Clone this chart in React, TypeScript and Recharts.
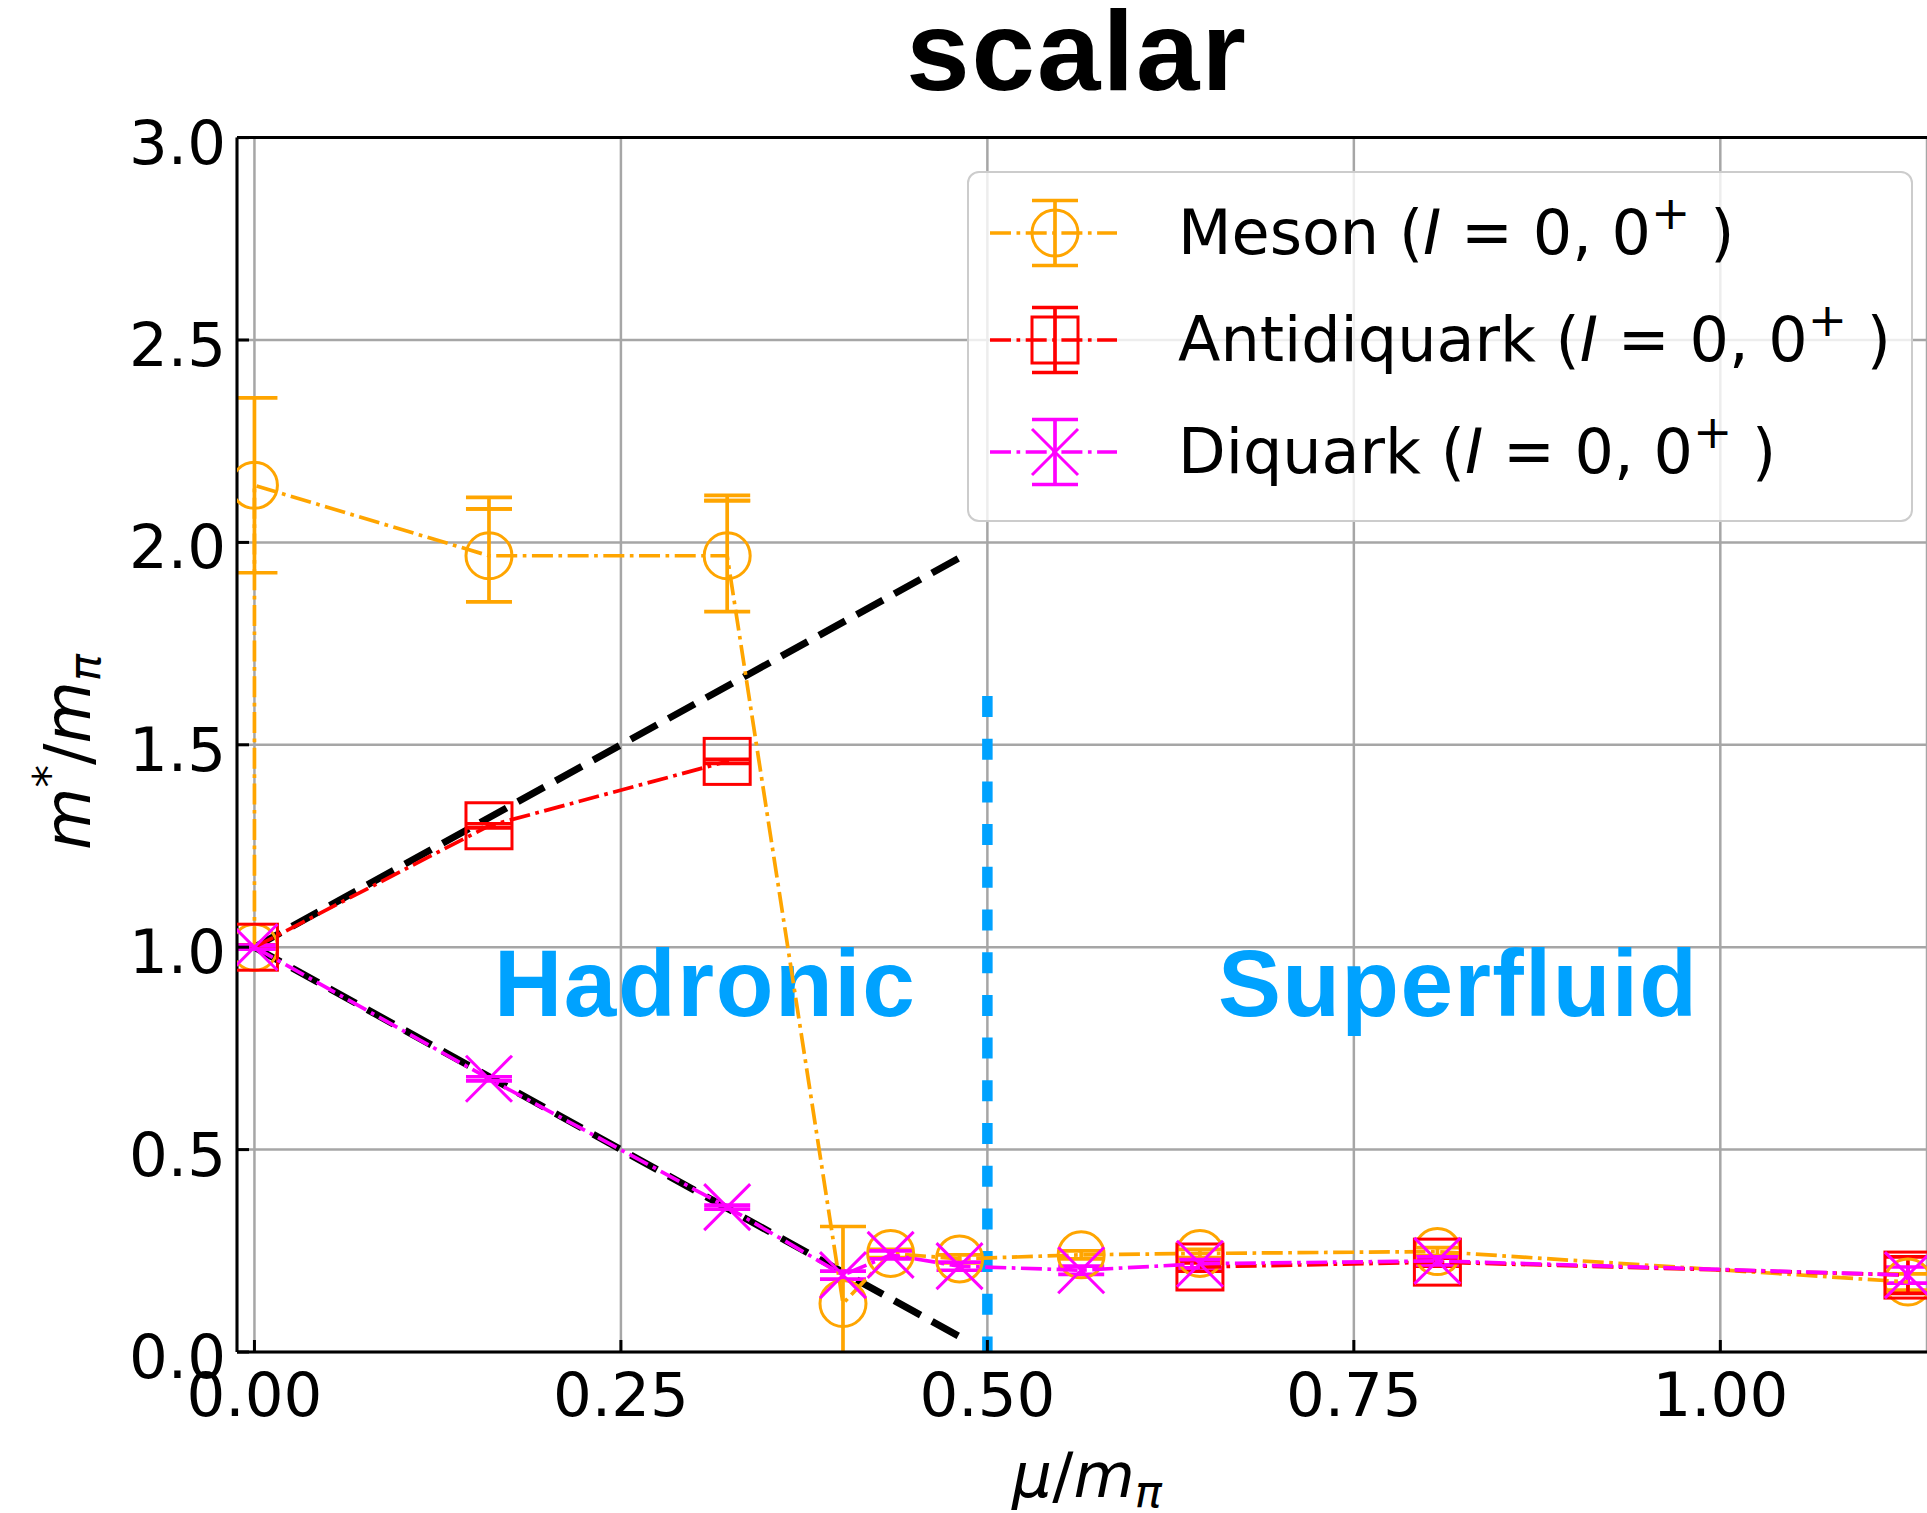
import React from 'react';
import {
  ComposedChart,
  Scatter,
  Line,
  XAxis,
  YAxis,
  CartesianGrid,
  ErrorBar,
  ReferenceLine,
  Legend,
  Customized,
} from 'recharts';

// ---------------- data ----------------
const xTicks = [0, 0.25, 0.5, 0.75, 1.0];
const xTickLabels = ['0.00', '0.25', '0.50', '0.75', '1.00'];
const yTicks = [0, 0.5, 1.0, 1.5, 2.0, 2.5, 3.0];
const yTickLabels = ['0.0', '0.5', '1.0', '1.5', '2.0', '2.5', '3.0'];

const seriesNames = ['Meson', 'Antidiquark', 'Diquark'];

// Meson (I=0, 0+)
const mesonMu = [0, 0, 0.16, 0.3225, 0.4015, 0.434, 0.481, 0.564, 0.645, 0.807, 1.128];
const mesonMass = [1.0, 2.141, 1.967, 1.967, 0.12, 0.2435, 0.23, 0.24, 0.2435, 0.248, 0.173];
const mesonErrLow = [0.005, 0.216, 0.114, 0.138, 0.19, 0.01, 0.01, 0.01, 0.01, 0.01, 0.02];
const mesonErrHigh = [0.005, 0.216, 0.116, 0.136, 0.19, 0.01, 0.01, 0.01, 0.01, 0.01, 0.02];
// second (outer) upper caps seen on two meson points
const mesonOuterMu = [0.16, 0.3225];
const mesonOuterMass = [1.967, 1.967];
const mesonOuterInner = [0.116, 0.136];
const mesonOuterUpper = [0.144, 0.149];

// Antidiquark (I=0, 0+) : hadronic branch and superfluid branch
const antiHadMu = [0, 0.16, 0.3225];
const antiHadMass = [1.0, 1.3, 1.459];
const antiHadErr = [0.005, 0.005, 0.005];
const antiSfMu = [0.645, 0.807, 1.128];
const antiSfMass = [0.21, 0.222, 0.19];
const antiSfErr = [0.01, 0.01, 0.045];

// Diquark (I=0, 0+)
const diquarkMu = [0, 0.16, 0.3225, 0.4015, 0.434, 0.481, 0.564, 0.645, 0.807, 1.128];
const diquarkMass = [1.0, 0.675, 0.358, 0.19, 0.24, 0.212, 0.202, 0.218, 0.225, 0.19];
const diquarkErr = [0.005, 0.005, 0.005, 0.01, 0.01, 0.01, 0.01, 0.01, 0.01, 0.02];

// m*/m_pi = 1 +/- 2 mu/m_pi  (hadronic-phase expectation)
const guideMu = [0, 0.485];
const guideUpper = [1.0, 1.97];
const guideLower = [1.0, 0.03];

// phase boundary
const boundaryMu = 0.5;
const boundaryTop = 1.6206;

// ---------------- styling ----------------
const W = 1927;
const H = 1513;
const PLOT = { left: 237, top: 137.6, right: 1927, bottom: 1352 };
const ORANGE = '#FFA500';
const RED = '#FF0000';
const MAGENTA = '#FF00FF';
const BLUE = '#00A2FF';
const LW = 3.7;
const MW = 3; // marker edge width
const DASHDOT = '21 5.5 3.7 5.5';
const MR = 23; // marker half size
const DV = 'DejaVu Sans';
const HELV = 'Liberation Sans, Arial, sans-serif';

const mesonData = mesonMu.map((x, i) => ({ x, y: mesonMass[i], err: [mesonErrLow[i], mesonErrHigh[i]] }));
const mesonOuterData = mesonOuterMu.map((x, i) => ({
  x,
  y: mesonOuterMass[i],
  err: [-mesonOuterInner[i], mesonOuterUpper[i]],
}));
const antiHadData = antiHadMu.map((x, i) => ({ x, y: antiHadMass[i], err: antiHadErr[i] }));
const antiSfData = antiSfMu.map((x, i) => ({ x, y: antiSfMass[i], err: antiSfErr[i] }));
const diquarkData = diquarkMu.map((x, i) => ({ x, y: diquarkMass[i], err: diquarkErr[i] }));
const upperGuide = guideMu.map((x, i) => ({ x, y: guideUpper[i] }));
const lowerGuide = guideMu.map((x, i) => ({ x, y: guideLower[i] }));

const CircleShape = (p: any) => (
  <circle cx={p.cx} cy={p.cy} r={MR} fill="none" stroke={ORANGE} strokeWidth={MW} />
);
const SquareShape = (p: any) => (
  <rect x={p.cx - MR} y={p.cy - MR} width={2 * MR} height={2 * MR} fill="none" stroke={RED} strokeWidth={MW} />
);
const CrossShape = (p: any) => (
  <g stroke={MAGENTA} strokeWidth={MW}>
    <line x1={p.cx - MR} y1={p.cy - MR} x2={p.cx + MR} y2={p.cy + MR} />
    <line x1={p.cx - MR} y1={p.cy + MR} x2={p.cx + MR} y2={p.cy - MR} />
  </g>
);
const NoShape = () => <g />;

const XTick = (props: any) => {
  const { x, y, payload } = props;
  const idx = xTicks.indexOf(payload.value);
  return (
    <g>
      <line x1={x} x2={x} y1={y} y2={y - 12} stroke="#000" strokeWidth={3} />
      <text x={x} y={y + 64} textAnchor="middle" fontFamily={DV} fontSize={61} fill="#000">
        {xTickLabels[idx]}
      </text>
    </g>
  );
};

const YTick = (props: any) => {
  const { x, y, payload } = props;
  const idx = yTicks.indexOf(payload.value);
  return (
    <g>
      <line x1={x} x2={x + 12} y1={y} y2={y} stroke="#000" strokeWidth={3} />
      <text x={x - 11} y={y + 26} textAnchor="end" fontFamily={DV} fontSize={61} fill="#000">
        {yTickLabels[idx]}
      </text>
    </g>
  );
};

const legendRows = [
  { color: ORANGE, kind: 'circle', cy: 62 },
  { color: RED, kind: 'square', cy: 169 },
  { color: MAGENTA, kind: 'cross', cy: 281 },
];

const LegendBox = () => (
  <svg width={946} height={351} style={{ display: 'block' }}>
    <rect x={1} y={1} width={944} height={349} rx={11} fill="rgba(255,255,255,0.8)" stroke="#cccccc" strokeWidth={2} />
    {legendRows.map((r, i) => {
      const mx = 88;
      return (
        <g key={i}>
          <line x1={23} x2={150} y1={r.cy} y2={r.cy} stroke={r.color} strokeWidth={LW} strokeDasharray={DASHDOT} />
          <g stroke={r.color} strokeWidth={LW}>
            <line x1={mx} x2={mx} y1={r.cy - 32.5} y2={r.cy + 32.5} />
            <line x1={mx - MR} x2={mx + MR} y1={r.cy - 32.5} y2={r.cy - 32.5} />
            <line x1={mx - MR} x2={mx + MR} y1={r.cy + 32.5} y2={r.cy + 32.5} />
          </g>
          {r.kind === 'circle' && <CircleShape cx={mx} cy={r.cy} />}
          {r.kind === 'square' && <SquareShape cx={mx} cy={r.cy} />}
          {r.kind === 'cross' && <CrossShape cx={mx} cy={r.cy} />}
          <text x={211} y={r.cy + 21} fontFamily={DV} fontSize={62} fill="#000">
            {seriesNames[i]} (<tspan fontStyle="italic">I</tspan> = 0, 0
            <tspan dy={-25} fontSize={47}>+</tspan>
            <tspan dy={25}> )</tspan>
          </text>
        </g>
      );
    })}
  </svg>
);

const Annotations = () => (
  <g>
    <defs>
      <clipPath id="plotClipArea">
        <rect x={PLOT.left} y={PLOT.top} width={PLOT.right - PLOT.left} height={PLOT.bottom - PLOT.top} />
      </clipPath>
    </defs>
    <text x={1077} y={90} textAnchor="middle" fontFamily={HELV} fontWeight="bold" fontSize={114} letterSpacing={2} fill="#000">
      scalar
    </text>
    <text x={494} y={1016} fontFamily={HELV} fontWeight="bold" fontSize={94.5} letterSpacing={1.6} fill={BLUE}>
      Hadronic
    </text>
    <text x={1218} y={1016} fontFamily={HELV} fontWeight="bold" fontSize={94.5} letterSpacing={1.3} fill={BLUE}>
      Superfluid
    </text>
    <text x={1087} y={1497} textAnchor="middle" fontFamily={DV} fontSize={63} fill="#000">
      <tspan fontStyle="italic">μ</tspan>/<tspan fontStyle="italic">m</tspan>
      <tspan fontStyle="italic" fontSize={45} dy={10}>π</tspan>
    </text>
    <text transform="translate(90,752) rotate(-90)" textAnchor="middle" fontFamily={DV} fontSize={64} fill="#000">
      <tspan fontStyle="italic">m</tspan>
      <tspan fontSize={45} dy={-25}>*</tspan>
      <tspan dy={25}>/</tspan>
      <tspan fontStyle="italic">m</tspan>
      <tspan fontStyle="italic" fontSize={45} dy={10}>π</tspan>
    </text>
  </g>
);

const clipCss = `
.recharts-scatter, .recharts-errorBar, .recharts-errorBars, .recharts-scatter-symbol, .recharts-scatter-line {
  clip-path: url(#plotClipArea);
}
`;

export default function App() {
  return (
    <div style={{ position: 'absolute', left: 0, top: 0, width: W, height: H, overflow: 'hidden', background: '#fff' }}>
      <style>{clipCss}</style>
      <ComposedChart width={W} height={H} margin={{ top: PLOT.top, right: 0, bottom: 0, left: 0 }}>
        <CartesianGrid stroke="#a6a6a6" strokeWidth={2.5} />
        <XAxis
          type="number"
          dataKey="x"
          domain={[-0.0119, 1.141]}
          allowDataOverflow
          ticks={xTicks}
          interval={0}
          height={H - PLOT.bottom}
          tickSize={0}
          tickMargin={0}
          tickLine={false}
          axisLine={{ stroke: '#000', strokeWidth: 3 }}
          tick={<XTick />}
        />
        <YAxis
          type="number"
          dataKey="y"
          domain={[0, 3]}
          allowDataOverflow
          ticks={yTicks}
          interval={0}
          width={PLOT.left}
          tickSize={0}
          tickMargin={0}
          tickLine={false}
          axisLine={{ stroke: '#000', strokeWidth: 3 }}
          tick={<YTick />}
        />
        <ReferenceLine y={3} stroke="#000" strokeWidth={3} />
        <Line data={upperGuide} dataKey="y" type="linear" stroke="#000" strokeWidth={7} strokeDasharray="30 13" dot={false} activeDot={false} isAnimationActive={false} />
        <Line data={lowerGuide} dataKey="y" type="linear" stroke="#000" strokeWidth={7} strokeDasharray="30 13" dot={false} activeDot={false} isAnimationActive={false} />
        <Scatter
          data={mesonData}
          line={{ stroke: ORANGE, strokeWidth: LW, strokeDasharray: DASHDOT }}
          lineType="joint"
          shape={CircleShape}
          isAnimationActive={false}
        >
          <ErrorBar dataKey="err" direction="y" width={MR} stroke={ORANGE} strokeWidth={LW} />
        </Scatter>
        <Scatter data={mesonOuterData} shape={NoShape} isAnimationActive={false}>
          <ErrorBar dataKey="err" direction="y" width={MR} stroke={ORANGE} strokeWidth={LW} />
        </Scatter>
        <Scatter
          data={antiHadData}
          line={{ stroke: RED, strokeWidth: LW, strokeDasharray: DASHDOT }}
          lineType="joint"
          shape={SquareShape}
          isAnimationActive={false}
        >
          <ErrorBar dataKey="err" direction="y" width={MR} stroke={RED} strokeWidth={LW} />
        </Scatter>
        <Scatter
          data={antiSfData}
          line={{ stroke: RED, strokeWidth: LW, strokeDasharray: DASHDOT }}
          lineType="joint"
          shape={SquareShape}
          isAnimationActive={false}
        >
          <ErrorBar dataKey="err" direction="y" width={MR} stroke={RED} strokeWidth={LW} />
        </Scatter>
        <Scatter
          data={diquarkData}
          line={{ stroke: MAGENTA, strokeWidth: LW, strokeDasharray: DASHDOT }}
          lineType="joint"
          shape={CrossShape}
          isAnimationActive={false}
        >
          <ErrorBar dataKey="err" direction="y" width={MR} stroke={MAGENTA} strokeWidth={LW} />
        </Scatter>
        <ReferenceLine
          segment={[
            { x: boundaryMu, y: boundaryTop },
            { x: boundaryMu, y: 0 },
          ]}
          stroke={BLUE}
          strokeWidth={10.5}
          strokeDasharray="21 21.7"
        />
        <Customized component={Annotations} />
        <Legend
          layout="horizontal"
          verticalAlign="middle"
          align="center"
          wrapperStyle={{ left: 967, top: 171, width: 946, height: 351 }}
          content={() => <LegendBox />}
        />
      </ComposedChart>
    </div>
  );
}
